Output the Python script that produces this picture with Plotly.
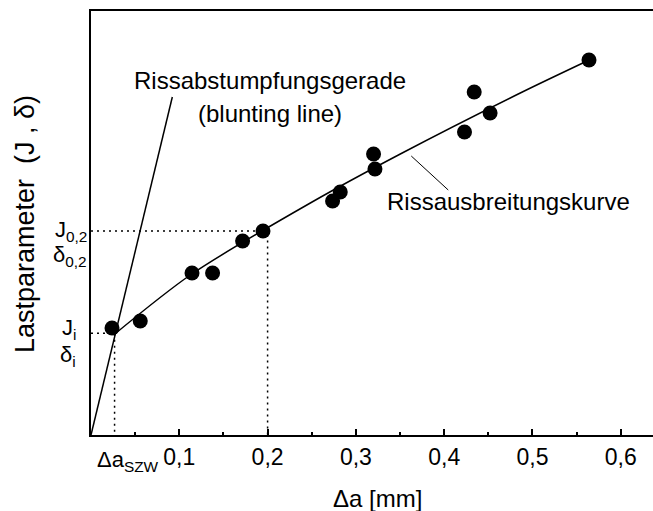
import plotly.graph_objects as go

# Measured crack growth points (Δa in mm, load parameter J/δ in arbitrary units)
delta_a = [0.0238, 0.0558, 0.1144, 0.1377, 0.1717, 0.1948, 0.2736, 0.2823,
           0.3200, 0.3216, 0.4230, 0.4340, 0.4520, 0.5640]
load = [1.07, 1.14, 1.62, 1.62, 1.94, 2.04, 2.34, 2.43,
        2.81, 2.66, 3.03, 3.43, 3.22, 3.75]

# Crack resistance curve (R-curve) support points
curve_da = [0.0256, 0.1125, 0.2484, 0.3503, 0.4862, 0.5643]
curve_load = [1.00, 1.60, 2.32, 2.81, 3.42, 3.75]

# Blunting line
blunt_da = [0.0, 0.0921]
blunt_load = [0.0, 3.38]

# Characteristic values
da_szw = 0.0267
j_i = 1.017
da_02 = 0.2
j_02 = 2.04

# Leader line for the curve label
leader_da = [0.3627, 0.4046]
leader_load = [2.79, 2.45]

tick_vals = [0.1, 0.2, 0.3, 0.4, 0.5, 0.6]
tick_text = ["0,1", "0,2", "0,3", "0,4", "0,5", "0,6"]
minor_vals = [0.05, 0.15, 0.25, 0.35, 0.45, 0.55]

FONT = "Liberation Sans, Arial, sans-serif"
dot_dash = "2px,4px"

fig = go.Figure()

# dotted guide lines
fig.add_trace(go.Scatter(x=[0, da_02, da_02], y=[j_02, j_02, 0], mode="lines",
                         line=dict(color="black", width=1.5, dash=dot_dash),
                         hoverinfo="skip", showlegend=False))
fig.add_trace(go.Scatter(x=[0, da_szw, da_szw], y=[j_i, j_i, 0], mode="lines",
                         line=dict(color="black", width=1.5, dash=dot_dash),
                         hoverinfo="skip", showlegend=False))

fig.add_trace(go.Scatter(x=blunt_da, y=blunt_load, mode="lines",
                         line=dict(color="black", width=1.5), showlegend=False))
fig.add_trace(go.Scatter(x=curve_da, y=curve_load, mode="lines",
                         line=dict(color="black", width=1.5, shape="spline", smoothing=0.8),
                         showlegend=False))
fig.add_trace(go.Scatter(x=leader_da, y=leader_load, mode="lines",
                         line=dict(color="black", width=1), showlegend=False))
fig.add_trace(go.Scatter(x=delta_a, y=load, mode="markers",
                         marker=dict(color="black", size=15), showlegend=False))

annotations = [
    dict(text="Rissabstumpfungsgerade", x=0.203, y=3.55, xref="x", yref="y",
         xanchor="center", showarrow=False, font=dict(size=24)),
    dict(text="(blunting line)", x=0.2031, y=3.22, xref="x", yref="y",
         xanchor="center", showarrow=False, font=dict(size=24)),
    dict(text="Rissausbreitungskurve", x=0.3333, y=2.34, xref="x", yref="y",
         xanchor="left", showarrow=False, font=dict(size=24)),
    dict(text="Lastparameter\u00a0 (J , δ)", x=-0.1174, y=0.4976, xref="paper", yref="paper",
         xanchor="center", yanchor="middle",
         textangle=-90, showarrow=False, font=dict(size=27)),
    dict(text="Δa [mm]", x=0.5098, y=-0.15, xref="paper", yref="paper",
         xanchor="center", yanchor="middle", showarrow=False, font=dict(size=24)),
    dict(text="Δa<sub>SZW</sub>", x=0, y=0, xref="paper", yref="paper",
         xanchor="left", yanchor="top", xshift=4, yshift=-10, showarrow=False,
         font=dict(size=22)),
    dict(text="J<sub>0,2</sub>", x=0, y=j_02, xref="paper", yref="y",
         xanchor="right", xshift=-2, yshift=0, showarrow=False, font=dict(size=22)),
    dict(text="δ<sub>0,2</sub>", x=0, y=j_02, xref="paper", yref="y",
         xanchor="right", xshift=-2, yshift=-25, showarrow=False, font=dict(size=22)),
    dict(text="J<sub>i</sub>", x=0, y=j_i, xref="paper", yref="y",
         xanchor="right", xshift=-13, yshift=4, showarrow=False, font=dict(size=22)),
    dict(text="δ<sub>i</sub>", x=0, y=j_i, xref="paper", yref="y",
         xanchor="right", xshift=-13, yshift=-23, showarrow=False, font=dict(size=22)),
]

fig.update_layout(
    width=653, height=511,
    margin=dict(l=91, r=0, t=11, b=76),
    paper_bgcolor="white", plot_bgcolor="white",
    font=dict(family=FONT, color="black"),
    annotations=annotations,
    showlegend=False,
)
fig.update_xaxes(
    range=[0, 0.6365], showgrid=False, zeroline=False,
    showline=True, linecolor="black", linewidth=2, mirror=True,
    tickmode="array", tickvals=tick_vals, ticktext=tick_text,
    ticks="inside", ticklen=6, tickwidth=1.5, tickcolor="black",
    tickfont=dict(size=23),
    minor=dict(tickvals=minor_vals, ticks="inside", ticklen=3, tickwidth=1.5, tickcolor="black"),
)
fig.update_yaxes(
    range=[0, 4.24], showgrid=False, zeroline=False,
    showline=True, linecolor="black", linewidth=2, mirror=False,
    showticklabels=False, ticks="",
)

fig.write_html("out.html")
